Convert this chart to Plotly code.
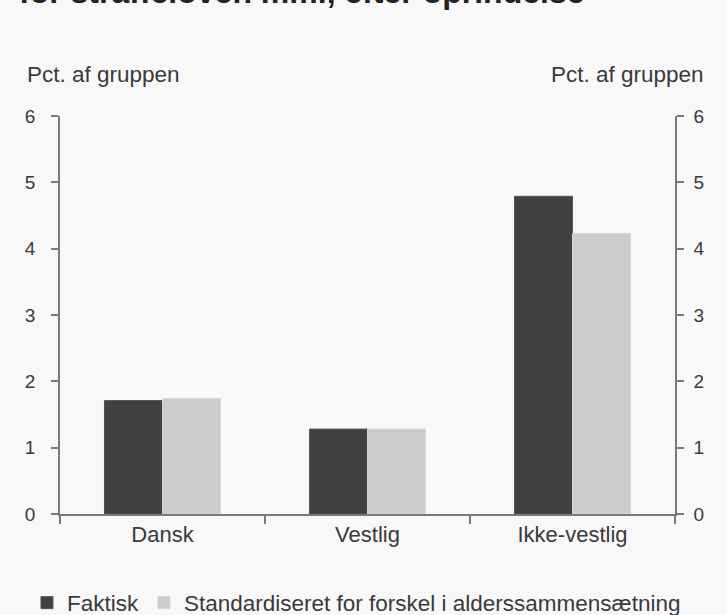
import plotly.graph_objects as go

# Data
categories = ['Dansk', 'Vestlig', 'Ikke-vestlig']
faktisk = [1.71, 1.28, 4.79]
standardiseret = [1.74, 1.28, 4.23]
y_ticks = [0, 1, 2, 3, 4, 5, 6]

font_name = 'Liberation Sans, Arial, sans-serif'
text_col = '#3a3a3a'
axis_col = '#7a7a7a'

fig = go.Figure()

fig.add_trace(go.Bar(
    x=categories, y=faktisk, name='Faktisk', legend='legend',
    marker=dict(color='#404040', line=dict(color='#555555', width=1))
))
fig.add_trace(go.Bar(
    x=categories, y=standardiseret, legend='legend2',
    name='Standardiseret for forskel i alderssammensætning',
    marker=dict(color='#cccccc', line=dict(color='#d6d6d6', width=1))
))
# invisible trace so the right axis is drawn
fig.add_trace(go.Scatter(
    x=categories, y=faktisk, yaxis='y2', mode='markers',
    marker=dict(opacity=0), showlegend=False, hoverinfo='skip'
))

axis_common = dict(
    range=[0, 6], tickvals=y_ticks, showgrid=False, zeroline=False,
    showline=True, linecolor=axis_col, linewidth=1.5,
    ticks='outside', ticklen=7, tickcolor=axis_col, tickwidth=1.5,
    tickfont=dict(size=19, color=text_col, family=font_name),
)

legend_common = dict(
    orientation='h', xref='container', yref='container',
    xanchor='left', y=0.0195, yanchor='middle',
    font=dict(size=22.5, color=text_col, family=font_name),
    itemwidth=30, bgcolor='rgba(0,0,0,0)'
)

fig.update_layout(
    width=727, height=615,
    paper_bgcolor='#f8f8f8', plot_bgcolor='#f8f8f8',
    margin=dict(l=60, r=52, t=116, b=101),
    barmode='group', bargap=0.434, bargroupgap=0,
    font=dict(family=font_name, color=text_col),
    xaxis=dict(
        showgrid=False, showline=True, linecolor=axis_col, linewidth=1.5,
        ticks='outside', tickson='boundaries', ticklen=8, tickcolor=axis_col,
        tickwidth=1.5,
        tickfont=dict(size=22, color=text_col, family=font_name),
    ),
    yaxis=dict(side='left', ticklabelstandoff=12, **axis_common),
    yaxis2=dict(side='right', overlaying='y', ticklabelstandoff=6, **axis_common),
    legend=dict(x=0.0371, **legend_common),
    legend2=dict(x=0.198, **legend_common),
    annotations=[
        # title, mostly cut off at the top edge as in the reference
        dict(text='<b>for straffeloven mm., efter oprindelse</b>',
             xref='paper', yref='paper', x=-0.0696, y=1.3116,
             xanchor='left', yanchor='middle', showarrow=False,
             font=dict(size=32, color='#222222', family=font_name)),
        dict(text='Pct. af gruppen', xref='paper', yref='paper',
             x=-0.057, y=1.1046, xanchor='left', yanchor='middle', showarrow=False,
             font=dict(size=22.5, color=text_col, family=font_name)),
        dict(text='Pct. af gruppen', xref='paper', yref='paper',
             x=1.05, y=1.1046, xanchor='right', yanchor='middle', showarrow=False,
             font=dict(size=22.5, color=text_col, family=font_name)),
    ],
)

fig.write_html("out.html", config={'displayModeBar': False},
               post_script="document.body.style.margin='0';")
